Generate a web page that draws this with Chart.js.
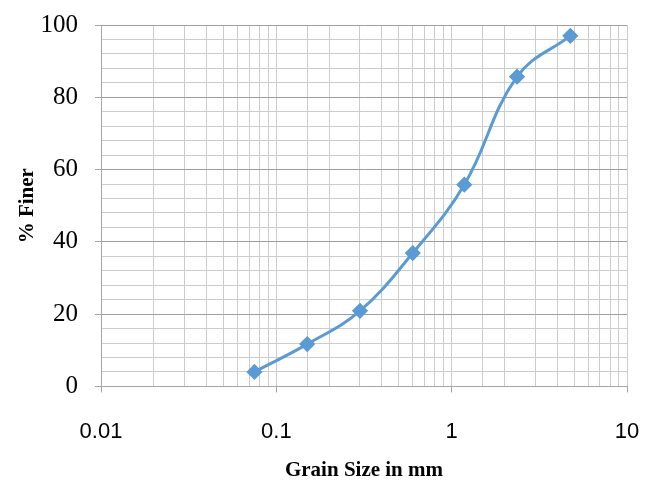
<!DOCTYPE html>
<html>
<head>
<meta charset="utf-8">
<script src="https://cdn.jsdelivr.net/npm/chart.js@4/dist/chart.umd.min.js"></script>
<style>
  body { margin: 0; background: #fff; }
  #wrap { width: 655px; height: 485px; }
</style>
</head>
<body>
<div id="wrap"><canvas id="myChart"></canvas></div>
<script>
// sieve analysis values
let sizes = [0.075, 0.15, 0.3, 0.6, 1.18, 2.36, 4.75];
let finer = [4, 11.7, 20.9, 36.9, 55.8, 85.7, 97];
let xTickLabels = [0.01, 0.1, 1, 10];
let yTickLabels = [0, 20, 40, 60, 80, 100];

let points = [];
for (let i = 0; i < sizes.length; i++) {
  points.push({ x: sizes[i], y: finer[i] });
}

function isDecade(v) {
  return xTickLabels.some(function (d) { return Math.abs(v - d) < d * 1e-6; });
}

new Chart("myChart", {
  type: "line",
  data: {
    datasets: [{
      data: points,
      borderColor: "#5B9BD5",
      backgroundColor: "#5B9BD5",
      borderWidth: 3,
      tension: 0.4,
      pointStyle: "rectRot",
      pointRadius: 6,
      pointHoverRadius: 6
    }]
  },
  options: {
    responsive: true,
    maintainAspectRatio: false,
    animation: false,
    layout: { padding: { top: 25, right: 28, left: 0, bottom: 2 } },
    plugins: { legend: { display: false }, tooltip: { enabled: false } },
    scales: {
      x: {
        type: "logarithmic",
        min: 0.01,
        max: 10,
        afterFit: function (scale) { scale.paddingLeft = 0; scale.paddingRight = 0; },
        border: { color: "#a6a6a6" },
        grid: {
          color: "#cccccc",
          lineWidth: 1,
          tickLength: 6,
          tickColor: function (ctx) { return isDecade(ctx.tick.value) ? "#a6a6a6" : "rgba(0,0,0,0)"; }
        },
        ticks: {
          autoSkip: false,
          maxRotation: 0,
          padding: 26,
          color: "#000",
          font: { family: "Liberation Sans", size: 22 },
          callback: function (v) { return isDecade(v) ? String(v) : ""; }
        },
        title: {
          display: true,
          text: "Grain Size in mm",
          color: "#000",
          font: { family: "Liberation Serif", size: 21, weight: "bold" },
          padding: { top: -13, bottom: 0 }
        }
      },
      y: {
        min: 0,
        max: 100,
        afterFit: function (scale) { scale.width = 101; scale.paddingTop = 0; scale.paddingBottom = 0; },
        border: { color: "#a6a6a6" },
        grid: {
          color: function (ctx) { return ctx.tick.value % 20 === 0 ? "#9e9e9e" : "#cccccc"; },
          tickLength: 6,
          tickColor: function (ctx) { return ctx.tick.value % 20 === 0 ? "#a6a6a6" : "rgba(0,0,0,0)"; }
        },
        ticks: {
          stepSize: 4,
          autoSkip: false,
          padding: 17,
          color: "#000",
          font: { family: "Liberation Serif", size: 25 },
          callback: function (v) { return yTickLabels.indexOf(v) >= 0 ? String(v) : ""; }
        },
        title: {
          display: true,
          text: "% Finer",
          color: "#000",
          font: { family: "Liberation Serif", size: 21, weight: "bold" },
          padding: { top: 15, bottom: 0 }
        }
      }
    }
  }
});
</script>
</body>
</html>
